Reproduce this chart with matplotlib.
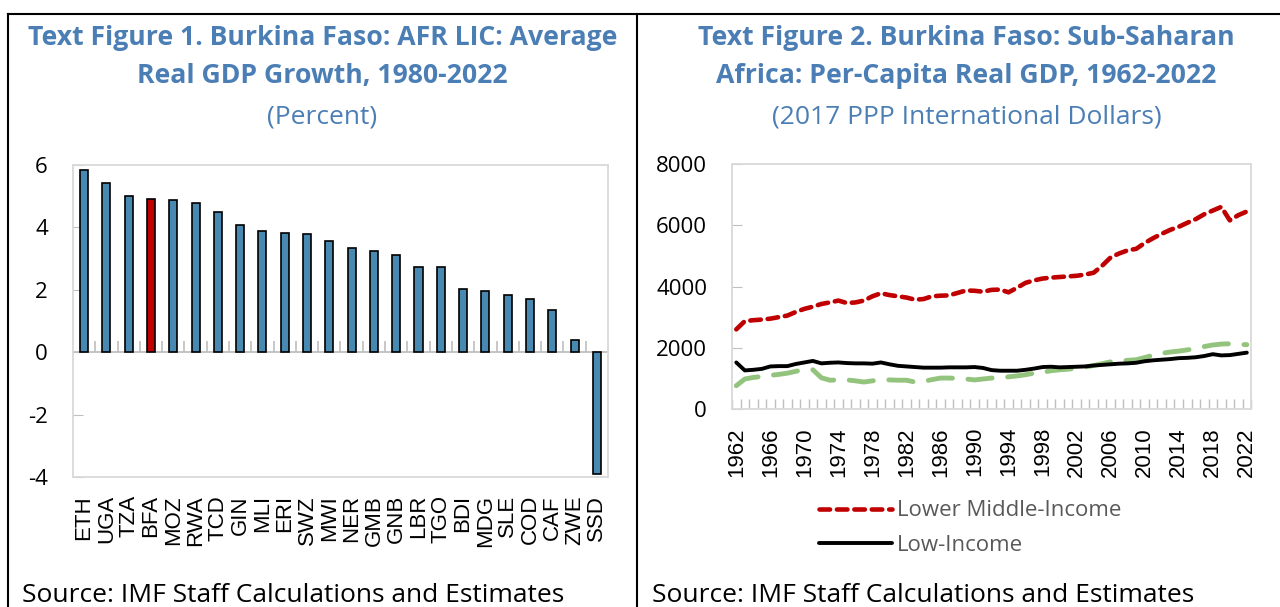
import matplotlib
matplotlib.use("Agg")
import matplotlib.pyplot as plt
from matplotlib.lines import Line2D
import numpy as np

plt.rcParams['font.family'] = ['Open Sans', 'DejaVu Sans']
plt.rcParams['axes.unicode_minus'] = False

# --- data: Text Figure 1 ---
countries = ["ETH", "UGA", "TZA", "BFA", "MOZ", "RWA", "TCD", "GIN", "MLI", "ERI",
             "SWZ", "MWI", "NER", "GMB", "GNB", "LBR", "TGO", "BDI", "MDG", "SLE",
             "COD", "CAF", "ZWE", "SSD"]
growth = [5.85, 5.42, 5.00, 4.92, 4.89, 4.77, 4.48, 4.09, 3.88, 3.81,
          3.79, 3.56, 3.33, 3.24, 3.12, 2.72, 2.72, 2.04, 1.96, 1.84,
          1.70, 1.35, 0.38, -3.91]
highlight = "BFA"

# --- data: Text Figure 2 ---
years = list(range(1962, 2023))
lower_middle = [2600, 2870, 2900, 2920, 2950, 3000, 3050, 3170, 3270, 3340,
                3430, 3480, 3540, 3460, 3480, 3540, 3680, 3780, 3720, 3680,
                3640, 3570, 3590, 3680, 3700, 3710, 3790, 3870, 3860, 3830,
                3890, 3900, 3810, 3960, 4120, 4200, 4260, 4290, 4310, 4330,
                4350, 4390, 4450, 4680, 4950, 5080, 5180, 5230, 5420, 5580,
                5720, 5850, 5950, 6080, 6200, 6360, 6480, 6600, 6160, 6330,
                6450]
low_income = [1520, 1260, 1280, 1310, 1390, 1400, 1400, 1470, 1520, 1570,
              1490, 1510, 1520, 1500, 1490, 1490, 1480, 1520, 1460, 1410,
              1390, 1370, 1350, 1350, 1350, 1360, 1360, 1360, 1370, 1340,
              1270, 1250, 1250, 1250, 1280, 1320, 1370, 1380, 1360, 1370,
              1380, 1390, 1420, 1440, 1460, 1480, 1490, 1510, 1560, 1590,
              1610, 1630, 1660, 1670, 1690, 1730, 1790, 1750, 1760, 1800,
              1840]
green_series = [760, 980, 1030, 1060, 1100, 1130, 1170, 1230, 1290, 1280,
                1020, 940, 950, 950, 920, 880, 920, 950, 950, 940,
                940, 880, 900, 960, 1010, 1010, 1000, 980, 950, 980,
                1010, 1030, 1050, 1080, 1120, 1170, 1200, 1250, 1280, 1300,
                1330, 1370, 1420, 1480, 1540, 1560, 1590, 1610, 1680, 1760,
                1820, 1860, 1890, 1930, 1980, 2040, 2090, 2120, 2130, 2110,
                2100]

title_color = "#4A7EB5"
grid_gray = "#D9D9D9"
tick_gray = "#BFBFBF"
arial = ['Liberation Sans', 'DejaVu Sans']

fig = plt.figure(figsize=(12.8, 6.07), dpi=100)

# panel frame
fig.add_artist(Line2D([0.006, 0.006], [0, 0.977], color="black", lw=1.5))
fig.add_artist(Line2D([0.006, 1.0], [0.977, 0.977], color="black", lw=1.5))
fig.add_artist(Line2D([0.498, 0.498], [0, 0.977], color="black", lw=1.5))

# titles
fig.text(0.252, 0.938, "Text Figure 1. Burkina Faso: AFR LIC: Average", ha="center", va="center",
         color=title_color, fontsize=19.2, fontweight="bold")
fig.text(0.252, 0.874, "Real GDP Growth, 1980-2022", ha="center", va="center",
         color=title_color, fontsize=19.2, fontweight="bold")
fig.text(0.252, 0.808, "(Percent)", ha="center", va="center", color=title_color, fontsize=19)

fig.text(0.755, 0.938, "Text Figure 2. Burkina Faso: Sub-Saharan", ha="center", va="center",
         color=title_color, fontsize=19.2, fontweight="bold")
fig.text(0.755, 0.874, "Africa: Per-Capita Real GDP, 1962-2022", ha="center", va="center",
         color=title_color, fontsize=19.2, fontweight="bold")
fig.text(0.755, 0.808, "(2017 PPP International Dollars)", ha="center", va="center",
         color=title_color, fontsize=19)

fig.text(0.017, 0.008, "Source: IMF Staff Calculations and Estimates", ha="left", va="baseline",
         fontsize=19)
fig.text(0.509, 0.008, "Source: IMF Staff Calculations and Estimates", ha="left", va="baseline",
         fontsize=19)

# --- left chart ---
ax1 = fig.add_axes([0.057, 0.2142, 0.418, 0.514])
x = np.arange(len(countries))
colors = ["#C00000" if c == highlight else "#4789B1" for c in countries]
ax1.bar(x, growth, width=0.36, color=colors, edgecolor="black", linewidth=1.2, zorder=3)
ymin, ymax = -4, 6
ax1.set_ylim(ymin, ymax)
ax1.set_xlim(-0.5, len(countries) - 0.5)
ax1.set_yticks([-4, -2, 0, 2, 4, 6])
ax1.set_xticks(x)
ax1.set_xticklabels(countries, rotation=90, family=arial)
ax1.tick_params(axis="x", length=0, pad=13, labelsize=16)
ax1.tick_params(axis="y", direction="in", length=7, color=tick_gray, pad=18, labelsize=16)
for s in ax1.spines.values():
    s.set_color(grid_gray)
    s.set_linewidth(1.3)

zero_ax = ax1.secondary_xaxis((0 - ymin) / (ymax - ymin))
zero_ax.set_xticks(np.arange(0.5, len(countries) - 1))
zero_ax.tick_params(direction="in", length=8, color=tick_gray, labelbottom=False, width=1.2)
zero_ax.spines["bottom"].set_color(tick_gray)
zero_ax.spines["bottom"].set_linewidth(1.3)

# --- right chart ---
ax2 = fig.add_axes([0.5719, 0.3262, 0.4055, 0.4036])
ax2.plot(years, green_series, color="#93C47D", lw=3.5, dashes=(5, 3.2), dash_capstyle="round",
         solid_capstyle="round")
ax2.plot(years, low_income, color="black", lw=2.8, label="Low-Income", solid_capstyle="round")
ax2.plot(years, lower_middle, color="#C00000", lw=3.3, dashes=(2.3, 1.5), dash_capstyle="round",
         label="Lower Middle-Income")
ax2.set_ylim(0, 8000)
ax2.set_xlim(years[0] - 0.5, years[-1] + 0.5)
ax2.set_yticks([0, 2000, 4000, 6000, 8000])
ax2.set_xticks(np.arange(years[0] - 0.5, years[-1] + 0.6), minor=True)
ax2.set_xticks(years[::4])
ax2.set_xticklabels([str(y) for y in years[::4]], rotation=90, family=arial)
ax2.tick_params(axis="x", which="minor", direction="in", length=7, color=tick_gray, width=1.0)
ax2.tick_params(axis="x", which="major", length=0, pad=13, labelsize=16)
ax2.tick_params(axis="y", direction="in", length=7, color=tick_gray, pad=18, labelsize=16)
for s in ax2.spines.values():
    s.set_color(grid_gray)
    s.set_linewidth(1.3)

handles, labels = ax2.get_legend_handles_labels()
order = [labels.index("Lower Middle-Income"), labels.index("Low-Income")]
fig.legend([handles[i] for i in order], [labels[i] for i in order], loc="center",
           bbox_to_anchor=(0.758, 0.130), frameon=False, fontsize=16, handlelength=3.3,
           handletextpad=0.2, labelspacing=0.6, labelcolor="#595959")

fig.savefig("out.png", dpi=100)
